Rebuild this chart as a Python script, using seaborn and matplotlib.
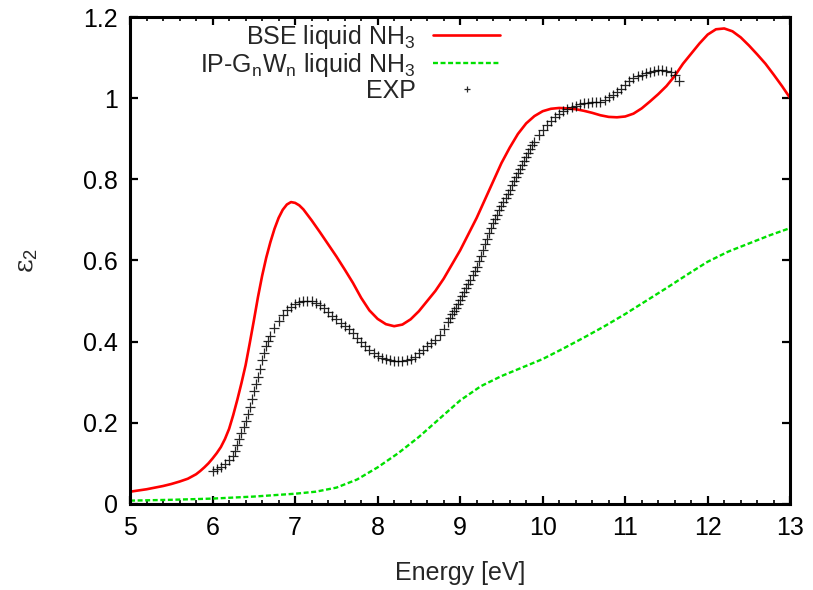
import numpy as np
import pandas as pd
import matplotlib
matplotlib.use("Agg")
import matplotlib.pyplot as plt
import seaborn as sns
from matplotlib.ticker import MultipleLocator

# ---------------- data ----------------
bse_x = [5.0, 5.1, 5.2, 5.3, 5.4, 5.5, 5.6, 5.7, 5.8, 5.85, 5.9, 5.95,
         6.0, 6.05, 6.1, 6.15, 6.2, 6.25, 6.3, 6.35, 6.4, 6.45, 6.5, 6.55,
         6.6, 6.65, 6.7, 6.75, 6.8, 6.85, 6.9, 6.95,
         7.0, 7.05, 7.1, 7.2, 7.3, 7.4, 7.5, 7.6, 7.7, 7.8, 7.9,
         8.0, 8.1, 8.2, 8.3, 8.4, 8.5, 8.6, 8.7, 8.8, 8.9,
         9.0, 9.1, 9.2, 9.3, 9.4, 9.5, 9.6, 9.7, 9.8, 9.9,
         10.0, 10.1, 10.2, 10.3, 10.4, 10.5, 10.6, 10.7, 10.8, 10.9,
         11.0, 11.1, 11.2, 11.3, 11.4, 11.5, 11.6, 11.7, 11.8, 11.9,
         12.0, 12.1, 12.2, 12.3, 12.4, 12.5, 12.6, 12.7, 12.8, 12.9, 13.0]
bse_y = [0.030, 0.033, 0.036, 0.040, 0.044, 0.049, 0.055, 0.062, 0.073, 0.081, 0.090, 0.100,
         0.112, 0.125, 0.140, 0.160, 0.185, 0.219, 0.257, 0.298, 0.342, 0.396, 0.452, 0.510,
         0.562, 0.607, 0.645, 0.678, 0.705, 0.725, 0.738, 0.744,
         0.742, 0.736, 0.726, 0.699, 0.670, 0.640, 0.610, 0.578, 0.545, 0.508, 0.477,
         0.456, 0.443, 0.438, 0.442, 0.455, 0.475, 0.500, 0.525, 0.555, 0.590,
         0.625, 0.665, 0.705, 0.750, 0.795, 0.840, 0.878, 0.912, 0.938, 0.956,
         0.968, 0.974, 0.976, 0.975, 0.973, 0.969, 0.964, 0.958, 0.954, 0.953,
         0.955, 0.962, 0.975, 0.992, 1.010, 1.030, 1.055, 1.085, 1.110, 1.135,
         1.157, 1.170, 1.172, 1.165, 1.150, 1.130, 1.108, 1.085, 1.058, 1.030, 1.000]

ip_x = [5.0, 5.5, 6.0, 6.5, 7.0, 7.25, 7.5, 7.75, 8.0, 8.25, 8.5, 8.75,
        9.0, 9.25, 9.5, 9.75, 10.0, 10.25, 10.5, 10.75, 11.0, 11.25,
        11.5, 11.75, 12.0, 12.25, 12.5, 12.75, 13.0]
ip_y = [0.008, 0.010, 0.013, 0.018, 0.025, 0.030, 0.040, 0.060, 0.090, 0.125, 0.165, 0.210,
        0.255, 0.290, 0.315, 0.336, 0.357, 0.383, 0.410, 0.438, 0.468, 0.500,
        0.532, 0.565, 0.597, 0.622, 0.642, 0.662, 0.680]

exp_x = [6.00, 6.05, 6.10, 6.15, 6.20, 6.25, 6.275, 6.30, 6.325, 6.35, 6.375,
         6.40, 6.425, 6.45, 6.475, 6.50, 6.525, 6.55, 6.575, 6.60, 6.625,
         6.65, 6.675, 6.70, 6.75, 6.80, 6.85, 6.90, 6.95,
         7.00, 7.05, 7.10, 7.15, 7.20, 7.25, 7.30, 7.35, 7.40, 7.45,
         7.50, 7.55, 7.60, 7.65, 7.70, 7.75, 7.80, 7.85, 7.90, 7.95,
         8.00, 8.05, 8.10, 8.15, 8.20, 8.25, 8.30, 8.35, 8.40, 8.45,
         8.50, 8.55, 8.60, 8.65, 8.70, 8.75, 8.80, 8.85, 8.875, 8.90, 8.925,
         8.95, 8.975, 9.00, 9.025, 9.05, 9.075, 9.10, 9.125, 9.15, 9.175,
         9.20, 9.225, 9.25, 9.275, 9.30, 9.325, 9.35, 9.375, 9.40, 9.425,
         9.45, 9.475, 9.50, 9.525, 9.55, 9.575, 9.60, 9.625, 9.65, 9.675,
         9.70, 9.725, 9.75, 9.775, 9.80, 9.825, 9.85, 9.875, 9.90, 9.95,
         10.00, 10.05, 10.10, 10.15, 10.20, 10.25, 10.30, 10.35, 10.40, 10.45,
         10.50, 10.55, 10.60, 10.65, 10.70, 10.75, 10.80, 10.85, 10.90, 10.95,
         11.00, 11.05, 11.10, 11.15, 11.20, 11.25, 11.30, 11.35, 11.40, 11.45,
         11.50, 11.55, 11.60, 11.65]
exp_y = [0.081, 0.086, 0.092, 0.099, 0.107, 0.118, 0.130, 0.145, 0.160, 0.175, 0.190,
         0.205, 0.222, 0.240, 0.259, 0.278, 0.296, 0.313, 0.333, 0.354, 0.372,
         0.388, 0.401, 0.413, 0.433, 0.452, 0.466, 0.477, 0.486,
         0.492, 0.497, 0.500, 0.501, 0.500, 0.496, 0.490, 0.482, 0.473, 0.463,
         0.455, 0.447, 0.439, 0.430, 0.420, 0.409, 0.398, 0.388, 0.379, 0.371,
         0.364, 0.359, 0.356, 0.354, 0.352, 0.352, 0.352, 0.354, 0.356, 0.362,
         0.371, 0.380, 0.388, 0.396, 0.404, 0.416, 0.432, 0.448, 0.458, 0.468, 0.476,
         0.484, 0.493, 0.502, 0.512, 0.523, 0.533, 0.543, 0.553, 0.563, 0.573,
         0.584, 0.598, 0.612, 0.626, 0.640, 0.654, 0.668, 0.680, 0.692, 0.703,
         0.713, 0.724, 0.734, 0.744, 0.754, 0.765, 0.775, 0.785, 0.795, 0.805,
         0.815, 0.826, 0.836, 0.846, 0.856, 0.866, 0.875, 0.884, 0.893, 0.909,
         0.922, 0.934, 0.945, 0.954, 0.962, 0.968, 0.974, 0.978, 0.982, 0.986,
         0.988, 0.989, 0.990, 0.990, 0.991, 0.996, 1.002, 1.008, 1.015, 1.023,
         1.032, 1.042, 1.050, 1.055, 1.058, 1.061, 1.064, 1.067, 1.069, 1.070,
         1.068, 1.065, 1.057, 1.042]

labels = ["BSE liquid NH$_3$", r"IP-G$_\mathrm{n}$W$_\mathrm{n}$ liquid NH$_3$", "EXP"]
xticks = [5, 6, 7, 8, 9, 10, 11, 12, 13]
yticks = [0, 0.2, 0.4, 0.6, 0.8, 1.0, 1.2]
ytick_labels = ["0", "0.2", "0.4", "0.6", "0.8", "1", "1.2"]

# ---------------- style ----------------
sns.set_style("ticks")
plt.rcParams["font.family"] = ["Liberation Sans", "DejaVu Sans"]
plt.rcParams["mathtext.fontset"] = "custom"
plt.rcParams["mathtext.rm"] = "Liberation Sans"
plt.rcParams["mathtext.it"] = "Liberation Sans:italic"
plt.rcParams["mathtext.bf"] = "Liberation Sans:bold"

fs = 18
fig = plt.figure(figsize=(8.13, 5.90), dpi=100)
ax = fig.add_axes([0.160, 0.146, 0.812, 0.825])

bse = pd.DataFrame({"x": bse_x, "y": bse_y})
ip = pd.DataFrame({"x": ip_x, "y": ip_y})
ex = pd.DataFrame({"x": exp_x, "y": exp_y})

sns.lineplot(data=bse, x="x", y="y", ax=ax, color="#ff0000", linewidth=1.9,
             label=labels[0], sort=False)
sns.lineplot(data=ip, x="x", y="y", ax=ax, color="#00e000", linewidth=1.7,
             label=labels[1], sort=False)
ax.lines[-1].set_dashes([2.1, 1.1])
ax.plot(ex["x"], ex["y"], linestyle="none", marker="+", markersize=7,
        markeredgewidth=0.9, color="black", alpha=0.85, label=labels[2])

ax.set_xlim(5, 13)
ax.set_ylim(0, 1.2)
ax.set_xticks(xticks)
ax.set_xticklabels([str(t) for t in xticks])
ax.set_yticks(yticks)
ax.set_yticklabels(ytick_labels)
ax.xaxis.set_minor_locator(MultipleLocator(0.2))

for s in ax.spines.values():
    s.set_linewidth(2.2)
    s.set_visible(True)
    s.set_color("black")

ax.tick_params(axis="both", which="major", direction="in", length=6, width=1.6,
               top=True, right=True, labelsize=fs, pad=9, colors="black")
ax.tick_params(axis="x", which="minor", direction="in", length=3, width=1.4,
               top=True, bottom=True)
ax.tick_params(axis="y", which="minor", left=False, right=False)

ax.set_xlabel("Energy [eV]", fontsize=fs, labelpad=15)
ax.set_ylabel("ε$_2$", fontsize=fs + 1, labelpad=31, family=["DejaVu Serif"])

leg = ax.legend(loc="upper right", bbox_to_anchor=(0.561, 0.988), frameon=False,
                markerfirst=False, fontsize=fs, handlelength=2.7,
                handletextpad=0.7, labelspacing=0.0, borderaxespad=0.0,
                borderpad=0.0)
for h in leg.legend_handles:
    try:
        h.set_markersize(5)
    except Exception:
        pass

fig.savefig("out.png", dpi=100)
